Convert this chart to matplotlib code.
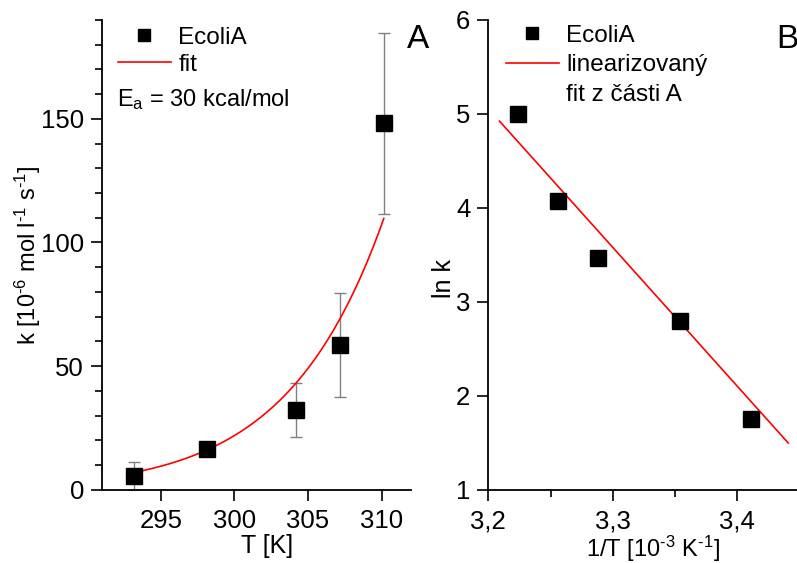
import numpy as np
import matplotlib
matplotlib.use("Agg")
import matplotlib.pyplot as plt
from matplotlib.lines import Line2D
from matplotlib.ticker import MultipleLocator, FuncFormatter

plt.rcParams['font.family'] = ['Liberation Sans', 'DejaVu Sans']
plt.rcParams['mathtext.fontset'] = 'custom'
plt.rcParams['mathtext.rm'] = 'Liberation Sans'
plt.rcParams['mathtext.it'] = 'Liberation Sans'
plt.rcParams['axes.unicode_minus'] = False

"""data read from the picture"""
T = [293.15, 298.15, 304.15, 307.15, 310.15]  # K
k = [5.6, 16.4, 32.2, 58.4, 148.2]  # 1e-6 mol/l/s
k_err = [5.8, 0.0, 10.8, 21.0, 36.5]
invT = [3.411, 3.354, 3.288, 3.256, 3.224]  # 1e-3 / K
lnk = [1.75, 2.80, 3.47, 4.07, 5.00]

# Arrhenius fit: ln k = fit_a - fit_b / T  (T in 1e3 K units for panel B)
fit_a = 52.32
fit_b = 14.77
fitA_range = (293.15, 310.15)
fitB_range = (3.209, 3.441)

fs = 17.5   # legend
tfs = 18.5  # tick labels
lfs = 17    # axis labels
hy = "\u2010"  # hyphen used as minus in exponents
fig = plt.figure(figsize=(7.97, 5.63), dpi=100)
axA = fig.add_axes([0.128, 0.1302, 0.3877, 0.8343])
axB = fig.add_axes([0.6127, 0.1302, 0.3873, 0.8343])

for ax in (axA, axB):
    ax.spines['top'].set_visible(False)
    ax.spines['right'].set_visible(False)
    ax.spines['left'].set_linewidth(1.3)
    ax.spines['bottom'].set_linewidth(1.3)
    ax.tick_params(which='major', direction='out', length=8, width=1.2, labelsize=tfs)
    ax.tick_params(axis='x', which='major', pad=6)
    ax.tick_params(axis='y', which='major', pad=5)
    ax.tick_params(which='minor', direction='out', length=5, width=1.2)

"""panel A"""
Tf = np.linspace(fitA_range[0], fitA_range[1], 200)
axA.plot(Tf, np.exp(fit_a - fit_b * 1000 / Tf), color='red', lw=1.2, zorder=2)
axA.errorbar(T, k, yerr=k_err, fmt='none', ecolor='gray', elinewidth=1.0, capsize=4, capthick=1.0, zorder=1)
axA.plot(T, k, 's', color='black', ms=11, zorder=3)
axA.set_xlim(291, 312)
axA.set_ylim(0, 190)
axA.set_xticks([295, 300, 305, 310])
axA.set_yticks([0, 50, 100, 150])
axA.yaxis.set_minor_locator(MultipleLocator(10))
axA.set_xlabel("T [K]", fontsize=lfs + 1)
axA.xaxis.set_label_coords(0.533, -0.094)
axA.set_ylabel("k [10$^{" + hy + "6}$ mol l$^{" + hy + "1}$ s$^{" + hy + "1}$]", fontsize=lfs)
axA.yaxis.set_label_coords(-0.19, 0.5)

hA = [Line2D([], [], ls='none', marker='s', color='black', ms=8),
      Line2D([], [], color='red', lw=1.2)]
axA.legend(hA, ["EcoliA", "fit"], loc='upper left', bbox_to_anchor=(-0.02, 1.032),
           frameon=False, fontsize=fs, handlelength=2.2, handletextpad=0.3,
           labelspacing=0.2, borderaxespad=0.5)
fig.text(117 / 797, 1 - 100 / 563, "E$_{\\rm a}$ = 30 kcal/mol", fontsize=17,
         va='center', ha='left')

"""panel B"""
xf = np.linspace(fitB_range[0], fitB_range[1], 50)
axB.plot(xf, fit_a - fit_b * xf, color='red', lw=1.2, zorder=2)
axB.plot(invT, lnk, 's', color='black', ms=11, zorder=3)
axB.set_xlim(3.2, 3.448)
axB.set_ylim(1, 6)
axB.set_xticks([3.2, 3.3, 3.4])
axB.xaxis.set_minor_locator(MultipleLocator(0.05))
axB.set_yticks([1, 2, 3, 4, 5, 6])
axB.xaxis.set_major_formatter(FuncFormatter(lambda v, p: ("%.1f" % v).replace('.', ',')))
axB.set_xlabel("1/T [10$^{" + hy + "3}$ K$^{" + hy + "1}$]", fontsize=lfs)
axB.xaxis.set_label_coords(0.532, -0.094)
axB.set_ylabel("ln k", fontsize=lfs + 1)
axB.yaxis.set_label_coords(-0.105, 0.45)

hB = [Line2D([], [], ls='none', marker='s', color='black', ms=8),
      Line2D([], [], color='red', lw=1.2),
      Line2D([], [], ls='none')]
axB.legend(hB, ["EcoliA", "linearizovaný", "fit z části A"], loc='upper left',
           bbox_to_anchor=(-0.015, 1.036), frameon=False, fontsize=fs,
           handlelength=2.2, handletextpad=0.3, labelspacing=0.3, borderaxespad=0.5)

fig.text(418 / 797, 1 - 40 / 563, "A", fontsize=24, ha='center', va='center')
fig.text(787 / 797, 1 - 40 / 563, "B", fontsize=24, ha='center', va='center')

fig.savefig("out.png", dpi=100)
